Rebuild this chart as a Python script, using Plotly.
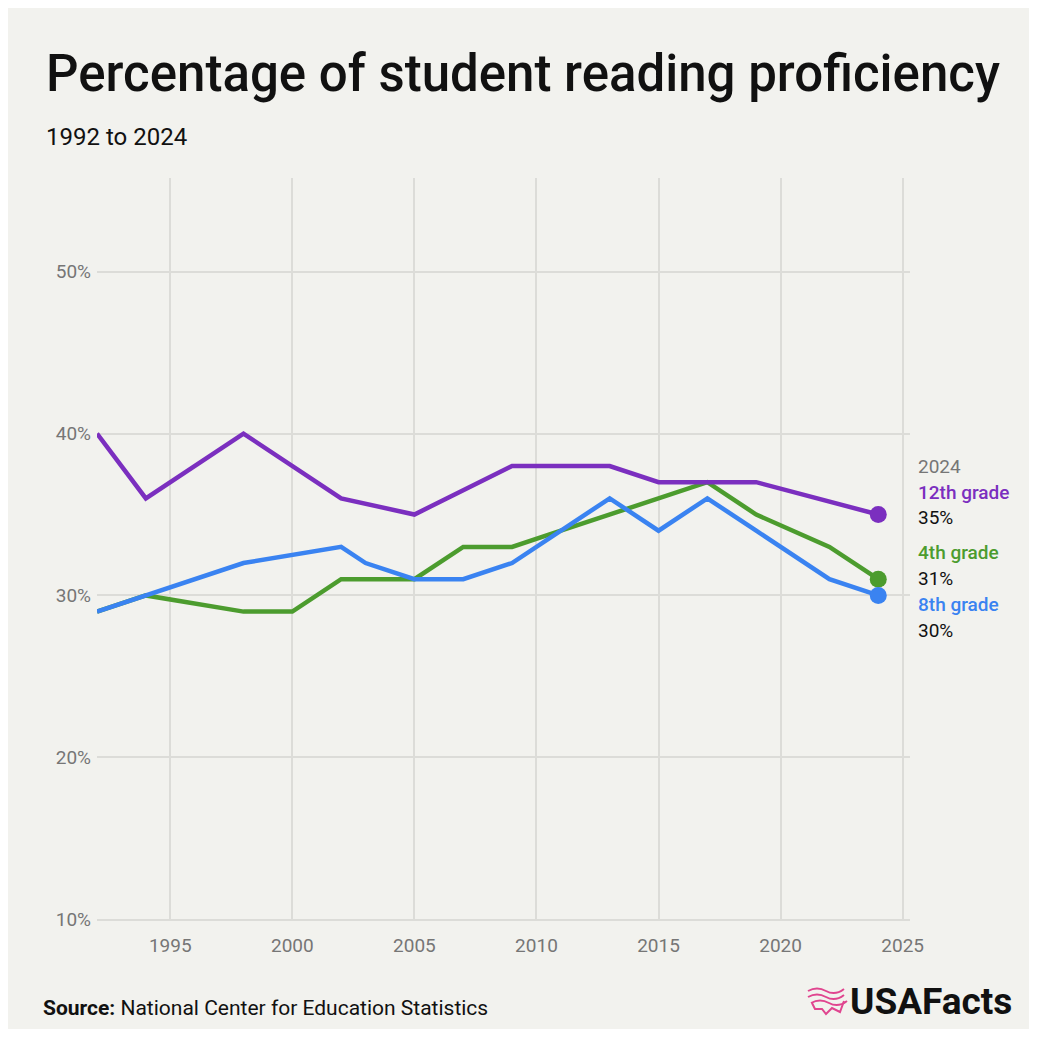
import plotly.graph_objects as go

years_4th = [1992, 1994, 1998, 2000, 2002, 2003, 2005, 2007, 2009, 2011, 2013, 2015, 2017, 2019, 2022, 2024]
vals_4th = [29, 30, 29, 29, 31, 31, 31, 33, 33, 34, 35, 36, 37, 35, 33, 31]

years_8th = [1992, 1994, 1998, 2002, 2003, 2005, 2007, 2009, 2011, 2013, 2015, 2017, 2019, 2022, 2024]
vals_8th = [29, 30, 32, 33, 32, 31, 31, 32, 34, 36, 34, 36, 34, 31, 30]

years_12th = [1992, 1994, 1998, 2002, 2005, 2009, 2013, 2015, 2019, 2024]
vals_12th = [40, 36, 40, 36, 35, 38, 38, 37, 37, 35]

x_ticks = [1995, 2000, 2005, 2010, 2015, 2020, 2025]
y_ticks = [10, 20, 30, 40, 50]
y_tick_labels = ["10%", "20%", "30%", "40%", "50%"]

C12 = "#7b2fbf"
C4 = "#4c9c2e"
C8 = "#3a83f1"
BG = "#f2f2ee"
GRID = "#dcdcd8"
TICK = "#767676"

OFF = 8  # page body margin
W = H = 1037 - 2 * OFF
L, R, T, B = 97 - OFF, 910 - OFF, 178 - OFF, 919 - OFF


def px(x):
    return (x - OFF - L) / (R - L)


def py(y):
    return (B - (y - OFF)) / (B - T)


fig = go.Figure()
for yrs, vals, col in [(years_4th, vals_4th, C4), (years_8th, vals_8th, C8), (years_12th, vals_12th, C12)]:
    fig.add_trace(go.Scatter(x=yrs, y=vals, mode="lines", line=dict(color=col, width=4.5),
                             hoverinfo="skip", showlegend=False))
for yrs, vals, col in [(years_12th, vals_12th, C12), (years_4th, vals_4th, C4), (years_8th, vals_8th, C8)]:
    fig.add_trace(go.Scatter(x=[yrs[-1]], y=[vals[-1]], mode="markers",
                             marker=dict(color=col, size=17), hoverinfo="skip", showlegend=False))

font = "Roboto, sans-serif"
fig.update_layout(
    width=W, height=H,
    margin=dict(l=L, r=W - R, t=T, b=H - B),
    paper_bgcolor=BG, plot_bgcolor=BG,
    font=dict(family=font),
    xaxis=dict(range=[1992, 2025.3], tickvals=x_ticks, showgrid=True, gridcolor=GRID, gridwidth=1.5,
               zeroline=False, showline=True, linecolor=GRID, linewidth=1.5,
               tickfont=dict(size=19, color=TICK), ticks="", ticklabelstandoff=8),
    yaxis=dict(range=[10, 55.8], tickvals=y_ticks, ticktext=y_tick_labels, showgrid=True, gridcolor=GRID,
               gridwidth=1.5, zeroline=False, showline=False,
               tickfont=dict(size=19, color=TICK), ticks="", ticklabelstandoff=5),
)

anns = [
    dict(text="Percentage of student reading proficiency", x=px(44), y=py(73), size=51, color="#111", weight=500),
    dict(text="1992 to 2024", x=px(44), y=py(137), size=24, color="#111", weight=400),
    dict(text="2024", x=px(916), y=py(466), size=19, color=TICK, weight=400),
    dict(text="12th grade", x=px(916), y=py(492), size=19, color=C12, weight=500),
    dict(text="35%", x=px(916), y=py(517), size=19, color="#111", weight=400),
    dict(text="4th grade", x=px(916), y=py(552), size=19, color=C4, weight=500),
    dict(text="31%", x=px(916), y=py(578), size=19, color="#111", weight=400),
    dict(text="8th grade", x=px(916), y=py(604), size=19, color=C8, weight=500),
    dict(text="30%", x=px(916), y=py(630), size=19, color="#111", weight=400),
    dict(text="<b>Source:</b> National Center for Education Statistics", x=px(41), y=py(1008), size=21,
         color="#111", weight=400),
    dict(text="USAFacts", x=px(848), y=py(1001), size=37, color="#111", weight=700),
]
for a in anns:
    fig.add_annotation(text=a["text"], x=a["x"], y=a["y"], xref="paper", yref="paper",
                       xanchor="left", yanchor="middle", showarrow=False,
                       font=dict(size=a["size"], color=a["color"], family=font, weight=a["weight"]))

# logo icon (stylized wavy flag / map outline)
PINK = "#e0458f"
for i, yy in enumerate([991, 997, 1003]):
    x0 = 808 + (3 if i == 2 else 0)
    path = (f"M {px(x0)},{py(yy)} Q {px(x0 + 9)},{py(yy - 5)} {px(x0 + 18)},{py(yy)} "
            f"T {px(x0 + 36)},{py(yy - 2)}")
    fig.add_shape(type="path", path=path, xref="paper", yref="paper",
                  line=dict(color=PINK, width=2))
fig.add_shape(type="path", xref="paper", yref="paper",
              path=(f"M {px(812)},{py(1003)} L {px(815)},{py(1009)} L {px(822)},{py(1009)} "
                    f"L {px(826)},{py(1014)} L {px(832)},{py(1008)} L {px(840)},{py(1012)} L {px(844)},{py(1001)}"),
              line=dict(color=PINK, width=2))

fig.write_html("out.html")
